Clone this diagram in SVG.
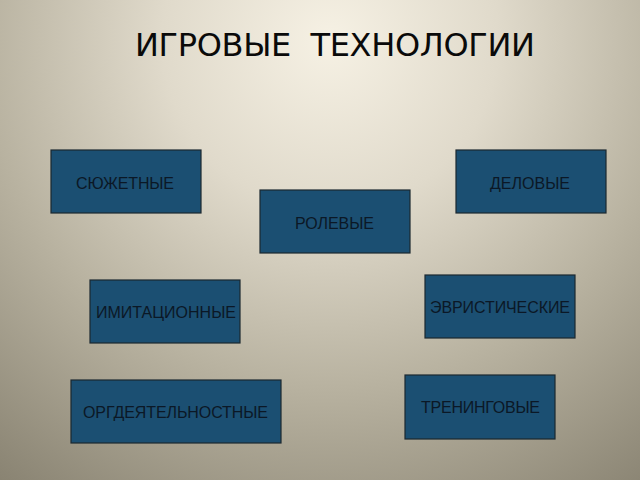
<svg xmlns="http://www.w3.org/2000/svg" width="640" height="480" viewBox="0 0 640 480">
<defs>
<radialGradient id="bg" gradientUnits="userSpaceOnUse" cx="330" cy="40" r="560">
<stop offset="0" stop-color="#f6f1e4"/>
<stop offset="0.3" stop-color="#e0dacb"/>
<stop offset="0.62" stop-color="#b8b2a0"/>
<stop offset="1" stop-color="#878170"/>
</radialGradient>
</defs>
<style>
.box{fill:#1b4f72;stroke:#1c2830;stroke-width:1.2}
.lbl{font-family:"Liberation Sans",Arial,sans-serif;font-size:16px;fill:#0b1826}
.title{font-family:"DejaVu Sans","Noto Sans",sans-serif;font-size:32px;fill:#0a0a0a}
</style>
<rect x="0" y="0" width="640" height="480" fill="url(#bg)"/>
<text class="title" x="135" y="56" textLength="400" xml:space="preserve">ИГРОВЫЕ  ТЕХНОЛОГИИ</text>
<g id="connectors"/>
<g id="node-syuzhetnye">
<rect class="box" x="51" y="150" width="150" height="63"/>
<text class="lbl" x="76" y="189" textLength="98">СЮЖЕТНЫЕ</text>
</g>
<g id="node-delovye">
<rect class="box" x="456" y="150" width="150" height="63"/>
<text class="lbl" x="490" y="189" textLength="80">ДЕЛОВЫЕ</text>
</g>
<g id="node-rolevye">
<rect class="box" x="260" y="190" width="150" height="63"/>
<text class="lbl" x="295" y="229" textLength="79">РОЛЕВЫЕ</text>
</g>
<g id="node-evristicheskie">
<rect class="box" x="425" y="275" width="150" height="63"/>
<text class="lbl" x="430" y="313" textLength="140">ЭВРИСТИЧЕСКИЕ</text>
</g>
<g id="node-imitatsionnye">
<rect class="box" x="90" y="280" width="150" height="63"/>
<text class="lbl" x="96" y="318" textLength="140">ИМИТАЦИОННЫЕ</text>
</g>
<g id="node-treningovye">
<rect class="box" x="405" y="375" width="150" height="64"/>
<text class="lbl" x="421" y="413" textLength="119">ТРЕНИНГОВЫЕ</text>
</g>
<g id="node-orgdeyatelnostnye">
<rect class="box" x="71" y="380" width="210" height="63"/>
<text class="lbl" x="83" y="418" textLength="185">ОРГДЕЯТЕЛЬНОСТНЫЕ</text>
</g>
</svg>
